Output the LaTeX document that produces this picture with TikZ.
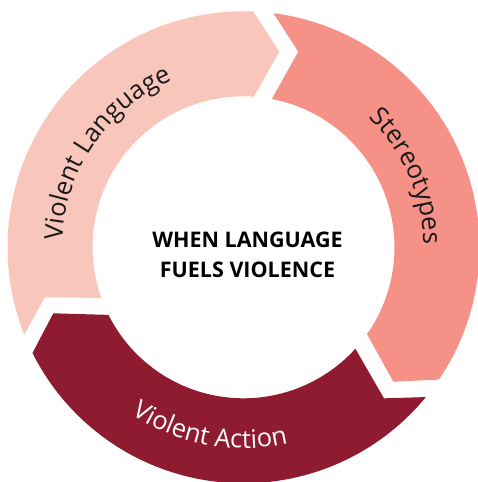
\documentclass[tikz,border=0pt]{standalone}
\usepackage{fontspec}
\setmainfont{Open Sans}
\usetikzlibrary{decorations.text}
\definecolor{vlcol}{RGB}{249,198,188}
\definecolor{stcol}{RGB}{245,145,135}
\definecolor{vacol}{RGB}{142,27,47}
\definecolor{txtcol}{RGB}{25,25,25}
\newcommand{\arclabelfont}{\fontsize{25.5}{30}\selectfont}
\tikzset{
  arclabel/.style={decorate,decoration={text along path,text align=center,text={#1}}}
}
\begin{document}
\begin{tikzpicture}[x=1pt,y=1pt]
\useasboundingbox (-243.5,-234.7) rectangle (234.5,247.3);
% Violent Language segment
\fill[vlcol] (201.7:236pt) -- (-198.5,-50) -- (199.6:151pt)
  arc[start angle=199.6,end angle=86,radius=151pt] -- (35.8,195.6) -- (87.6:236pt)
  arc[start angle=87.6,end angle=201.7,radius=236pt] -- cycle;
% Stereotypes segment
\fill[stcol] (82.7:236pt) -- (54.8,195.6) -- (79.2:151pt)
  arc[start angle=79.2,end angle=-35.1,radius=151pt] -- (149.8,-134.4) -- (-34.1:236pt)
  arc[start angle=-34.1,end angle=82.7,radius=236pt] -- cycle;
% Violent Action segment
\fill[vacol] (-39.4:236pt) -- (140.5,-151) -- (-42.2:151pt)
  arc[start angle=-42.2,end angle=-153.4,radius=151pt] -- (-190.2,-66) -- (-153.4:236pt)
  arc[start angle=-153.4,end angle=-39.4,radius=236pt] -- cycle;
% curved labels
\path[arclabel={|\arclabelfont\color{txtcol}|Violent Language}] (195:181pt) arc[start angle=195,end angle=96,radius=181pt];
\path[arclabel={|\arclabelfont\color{txtcol}|Stereotypes}] (69:180pt) arc[start angle=69,end angle=-22,radius=180pt];
\path[arclabel={|\arclabelfont\color{white}|Violent Action}] (211:201pt) arc[start angle=211,end angle=308,radius=201pt];
% center title
\node[align=center,inner sep=0pt,font=\bfseries\fontsize{21.5}{30}\selectfont,text=black] (title) at (4,-7.7) {WHEN LANGUAGE\\FUELS VIOLENCE};
\end{tikzpicture}
\end{document}
